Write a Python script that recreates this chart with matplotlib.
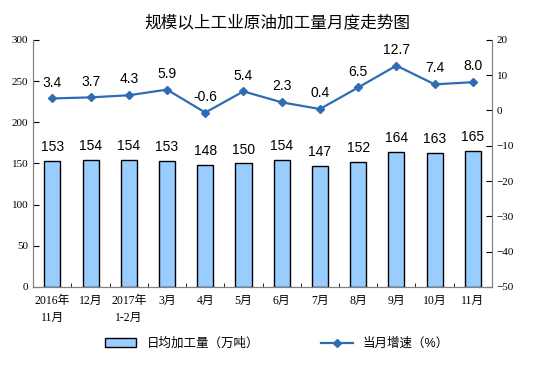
import numpy as np
import matplotlib.pyplot as plt

plt.rcParams['font.family'] = ['Liberation Sans', 'Noto Sans CJK SC']

months = ['2016年\n11月', '12月', '2017年\n1-2月', '3月', '4月', '5月',
          '6月', '7月', '8月', '9月', '10月', '11月']
daily_output = [153, 154, 154, 153, 148, 150, 154, 147, 152, 164, 163, 165]
growth = [3.4, 3.7, 4.3, 5.9, -0.6, 5.4, 2.3, 0.4, 6.5, 12.7, 7.4, 8.0]

fig = plt.figure(figsize=(5.54, 3.76), dpi=100)
ax = fig.add_axes([0.06, 0.237, 0.828, 0.657])
x = np.arange(len(months))

bars = ax.bar(x, daily_output, width=0.42, color='#99CCFF', edgecolor='black',
              linewidth=1.0, label='日均加工量（万吨）', zorder=2)
for xi, v in zip(x, daily_output):
    ax.text(xi, v + 8, str(v), ha='center', va='bottom', fontsize=10)

ax.set_ylim(0, 300)
ax.set_yticks(range(0, 301, 50))
ax.set_xlim(-0.5, len(months) - 0.5)
ax.set_xticks(x)
ax.set_xticklabels(months, fontsize=8.5, family=['Liberation Serif', 'Noto Sans CJK SC'],
                   linespacing=1.5)
ax.set_xticks(np.arange(-0.5, len(months), 1), minor=True)
ax.tick_params(axis='x', which='major', length=0, pad=6)
ax.tick_params(axis='x', which='minor', length=3, direction='in')
ax.tick_params(axis='y', direction='in', length=4, labelsize=8)
for lbl in ax.get_yticklabels():
    lbl.set_family('Liberation Serif')

ax2 = ax.twinx()
line, = ax2.plot(x, growth, color='#2E6DB4', marker='D', markersize=4,
                 linewidth=1.6, label='当月增速（%）', zorder=3)
for xi, v in zip(x, growth):
    ax2.text(xi, v + 2.5, f'{v:.1f}', ha='center', va='bottom', fontsize=10)
ax2.set_ylim(-50, 20)
ax2.set_yticks(range(-50, 21, 10))
ax2.tick_params(axis='y', direction='in', length=4, labelsize=8)
for lbl in ax2.get_yticklabels():
    lbl.set_family('Liberation Serif')

for a in (ax, ax2):
    for s in a.spines.values():
        s.set_color('#808080')
        s.set_linewidth(0.8)
ax2.spines['top'].set_visible(False)
ax.spines['top'].set_visible(False)

fig.text(0.5, 0.94, '规模以上工业原油加工量月度走势图', ha='center', va='center',
         fontsize=12)

fig.legend([bars, line], ['日均加工量（万吨）', '当月增速（%）'],
           loc='center', bbox_to_anchor=(0.5, 0.085), ncol=2, frameon=False,
           fontsize=9, columnspacing=5, handlelength=2.5)

fig.savefig('out.png', dpi=100)
